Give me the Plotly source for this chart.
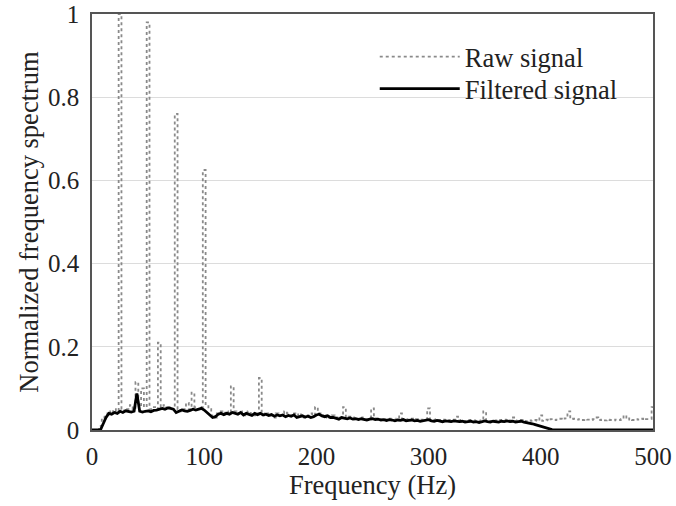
import numpy as np
import plotly.graph_objects as go

freq = np.arange(0, 500.01, 2.5)

raw = [
    0, 0, 0, 0.01, 0.03, 0.035, 0.045, 0.04, 0.05, 0.045,
    1.0, 0.05, 0.045, 0.05, 0.06, 0.05, 0.115, 0.06, 0.1, 0.055,
    0.98, 0.05, 0.055, 0.05, 0.21, 0.055, 0.06, 0.05, 0.055, 0.05,
    0.76, 0.05, 0.045, 0.05, 0.065, 0.05, 0.09, 0.055, 0.05, 0.055,
    0.625, 0.06, 0.05, 0.035, 0.03, 0.04, 0.045, 0.04, 0.045, 0.04,
    0.105, 0.045, 0.04, 0.045, 0.04, 0.035, 0.045, 0.04, 0.035, 0.04,
    0.125, 0.04, 0.035, 0.04, 0.035, 0.03, 0.04, 0.035, 0.04, 0.045,
    0.04,
    0.035, 0.04, 0.035, 0.04, 0.035, 0.03, 0.035, 0.04, 0.035,
    0.055, 0.04, 0.035, 0.03, 0.035, 0.03, 0.035, 0.03, 0.028, 0.03,
    0.055, 0.03, 0.032, 0.028, 0.03, 0.027, 0.03, 0.028, 0.026, 0.03,
    0.052, 0.028, 0.027, 0.026, 0.028, 0.025, 0.027, 0.026, 0.025, 0.027,
    0.04, 0.026, 0.025, 0.026, 0.027, 0.025, 0.026, 0.024, 0.025, 0.026,
    0.052, 0.025, 0.024, 0.026, 0.024, 0.023, 0.025, 0.024, 0.023, 0.025,
    0.032, 0.023, 0.024, 0.022, 0.023, 0.024, 0.022, 0.023, 0.022, 0.023,
    0.045, 0.023, 0.022, 0.024, 0.023, 0.022, 0.024, 0.023, 0.025, 0.023,
    0.03, 0.022, 0.023, 0.024, 0.022, 0.021, 0.023, 0.022, 0.024, 0.022,
    0.035, 0.022, 0.025, 0.023, 0.026, 0.024, 0.025, 0.027, 0.025, 0.028,
    0.045, 0.026, 0.027, 0.025, 0.026, 0.024, 0.026, 0.025, 0.024, 0.026,
    0.03, 0.024, 0.025, 0.023, 0.025, 0.024, 0.023, 0.025, 0.024, 0.026,
    0.035, 0.025, 0.028, 0.024, 0.026, 0.025, 0.027, 0.024, 0.026, 0.027,
    0.055,
]

filtered = [
    0, 0, 0, 0, 0.015, 0.03, 0.04, 0.038, 0.042, 0.04,
    0.045, 0.042, 0.046, 0.044, 0.043, 0.045, 0.088, 0.045, 0.043, 0.045,
    0.046, 0.044, 0.047, 0.048, 0.05, 0.052, 0.05, 0.053, 0.052, 0.05,
    0.042, 0.045, 0.048, 0.046, 0.045, 0.047, 0.05, 0.048, 0.05, 0.052,
    0.048, 0.042, 0.035, 0.03, 0.032, 0.038, 0.04, 0.037, 0.04, 0.038,
    0.042, 0.04, 0.038, 0.042, 0.036, 0.04, 0.038, 0.035, 0.04, 0.037,
    0.04, 0.036, 0.038, 0.035, 0.037, 0.033, 0.036, 0.034, 0.036, 0.032,
    0.035, 0.033, 0.036, 0.03, 0.032, 0.034, 0.031, 0.033, 0.03, 0.032,
    0.036, 0.038, 0.034, 0.032, 0.034, 0.03, 0.03, 0.028, 0.026, 0.03,
    0.028, 0.027, 0.029, 0.026, 0.027, 0.025, 0.027, 0.026, 0.024, 0.026,
    0.027, 0.025, 0.026, 0.024, 0.025, 0.023, 0.025, 0.024, 0.022, 0.024,
    0.023, 0.025, 0.022, 0.023, 0.024, 0.022, 0.023, 0.021, 0.022, 0.024,
    0.025, 0.022, 0.021, 0.023, 0.022, 0.02, 0.022, 0.021, 0.02, 0.022,
    0.021, 0.02, 0.021, 0.019, 0.02, 0.021, 0.019, 0.02, 0.018, 0.02,
    0.022, 0.02, 0.019, 0.021, 0.02, 0.019, 0.021, 0.02, 0.022, 0.02,
    0.021, 0.019, 0.02, 0.021, 0.019, 0.018, 0.017, 0.015, 0.013, 0.011,
    0.009, 0.006, 0.004, 0.002, 0.001, 0,
] + [0] * 35

x_ticks = [0, 100, 200, 300, 400, 500]
y_ticks = [0, 0.2, 0.4, 0.6, 0.8, 1]
y_tick_labels = ["0", "0.2", "0.4", "0.6", "0.8", "1"]

n = min(len(freq), len(raw), len(filtered))

fig = go.Figure()
fig.add_trace(go.Scatter(
    x=freq[:n], y=raw[:n], mode="lines", name="Raw signal",
    line=dict(color="#8a8a8a", width=1.8, dash="dot", shape="hvh"),
    legend="legend",
))
fig.add_trace(go.Scatter(
    x=freq[:n], y=filtered[:n], mode="lines", name="Filtered signal",
    line=dict(color="#000000", width=2.8),
    legend="legend2",
))

font = "Liberation Serif, Times New Roman, serif"
leg_common = dict(xanchor="left", yanchor="middle", bgcolor="rgba(0,0,0,0)",
                  itemwidth=80, font=dict(family=font, size=26.5, color="#222"))
fig.update_layout(
    width=676, height=506,
    margin=dict(l=92, r=23, t=14, b=76),
    paper_bgcolor="white", plot_bgcolor="white",
    font=dict(family=font, size=25, color="#222"),
    showlegend=True,
    legend=dict(x=0.504, y=0.897, **leg_common),
    legend2=dict(x=0.504, y=0.82, **leg_common),
    xaxis=dict(range=[0, 500], tickvals=x_ticks, showgrid=False,
               showline=True, linecolor="#555", linewidth=1.5, mirror=True,
               ticks="", zeroline=False, automargin=False,
               ticklabelstandoff=3,
               title=dict(text="Frequency (Hz)", font=dict(size=26.5), standoff=4),
               tickfont=dict(size=25)),
    yaxis=dict(range=[0, 1], tickvals=y_ticks, ticktext=y_tick_labels,
               showgrid=True, gridcolor="#dcdcdc", gridwidth=1,
               showline=True, linecolor="#555", linewidth=1.5, mirror=True,
               ticks="", zeroline=False, automargin=False,
               ticklabelstandoff=6,
               title=dict(text="Normalized frequency spectrum", font=dict(size=26.5), standoff=2),
               tickfont=dict(size=25)),
)
fig.write_html("out.html", config={"displayModeBar": False},
               post_script="document.body.style.margin='0';")
